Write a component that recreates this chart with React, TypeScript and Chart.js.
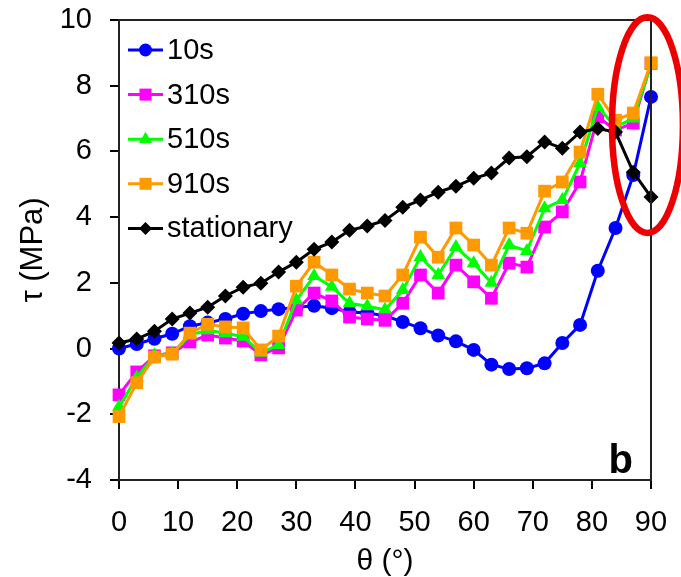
import React, { useEffect, useRef } from "react";
import { Chart, registerables } from "chart.js";

Chart.register(...registerables);

// ---- data ----
const thetaDeg = [0, 3, 6, 9, 12, 15, 18, 21, 24, 27, 30, 33, 36, 39, 42, 45, 48, 51, 54, 57, 60, 63, 66, 69, 72, 75, 78, 81, 84, 87, 90];

const tau10s = [0.0, 0.14, 0.3, 0.45, 0.68, 0.79, 0.9, 1.06, 1.14, 1.2, 1.25, 1.3, 1.23, 1.11, 1.08, 1.0, 0.81, 0.62, 0.4, 0.22, -0.04, -0.49, -0.62, -0.6, -0.45, 0.17, 0.72, 2.37, 3.67, 5.28, 7.66];
const tau310s = [-1.41, -0.71, -0.22, -0.13, 0.2, 0.41, 0.32, 0.23, -0.19, 0.02, 1.17, 1.69, 1.45, 0.96, 0.9, 0.86, 1.38, 2.24, 1.69, 2.54, 2.03, 1.53, 2.6, 2.48, 3.7, 4.16, 5.07, 7.05, 6.65, 6.86, 8.68];
const tau510s = [-1.77, -0.88, -0.2, -0.15, 0.41, 0.56, 0.47, 0.36, -0.13, 0.11, 1.47, 2.21, 1.88, 1.38, 1.29, 1.18, 1.78, 2.79, 2.24, 3.09, 2.6, 2.0, 3.15, 2.97, 4.27, 4.52, 5.64, 7.35, 6.75, 7.0, 8.63];
const tau910s = [-2.07, -1.04, -0.26, -0.17, 0.47, 0.74, 0.66, 0.63, -0.04, 0.38, 1.9, 2.63, 2.24, 1.81, 1.69, 1.6, 2.24, 3.39, 2.78, 3.67, 3.15, 2.54, 3.67, 3.51, 4.79, 5.07, 5.98, 7.74, 6.95, 7.17, 8.7];
const tauStationary = [0.17, 0.29, 0.53, 0.9, 1.08, 1.26, 1.6, 1.87, 1.99, 2.33, 2.63, 3.02, 3.24, 3.6, 3.73, 3.9, 4.3, 4.52, 4.76, 4.94, 5.18, 5.34, 5.8, 5.84, 6.29, 6.1, 6.59, 6.7, 6.59, 5.37, 4.61];

const seriesLabels = ["10s", "310s", "510s", "910s", "stationary"];
const xTickValues = [0, 10, 20, 30, 40, 50, 60, 70, 80, 90];
const yTickValues = [-4, -2, 0, 2, 4, 6, 8, 10];

const xTitle = "θ (°)";
const yTitle = "τ (MPa)";
const panelLetter = "b";

// highlight ellipse (in data units)
const ellipseCenterTheta = 89.4;
const ellipseCenterTau = 6.8;
const ellipseHalfWidthDeg = 6.0;
const ellipseHalfHeightTau = 3.28;

const FONT = '"Liberation Sans", Arial, Helvetica, sans-serif';

const styles = [
  { color: "#0000ff", pointStyle: "circle", radius: 7, legendRadius: 6.5 },
  { color: "#ff00ff", pointStyle: "rect", radius: 9, legendRadius: 8.5 },
  { color: "#00ff00", pointStyle: "triangle", radius: 8, legendRadius: 7.5 },
  { color: "#ff9900", pointStyle: "rect", radius: 9, legendRadius: 8.5 },
  { color: "#000000", pointStyle: "rectRot", radius: 7.5, legendRadius: 6.5 },
];

function drawMarker(ctx: CanvasRenderingContext2D, style: string, x: number, y: number, r: number, color: string) {
  ctx.fillStyle = color;
  ctx.beginPath();
  if (style === "circle") {
    ctx.arc(x, y, r, 0, Math.PI * 2);
  } else if (style === "rect") {
    const s = Math.SQRT1_2 * r;
    ctx.rect(x - s, y - s, 2 * s, 2 * s);
  } else if (style === "triangle") {
    const h = r * 1.5;
    const side = (3 * r) / Math.sqrt(3);
    ctx.moveTo(x - side / 2, y + h / 3);
    ctx.lineTo(x + side / 2, y + h / 3);
    ctx.lineTo(x, y - (2 * h) / 3);
    ctx.closePath();
  } else if (style === "rectRot") {
    ctx.moveTo(x, y - r);
    ctx.lineTo(x + r, y);
    ctx.lineTo(x, y + r);
    ctx.lineTo(x - r, y);
    ctx.closePath();
  }
  ctx.fill();
}

const overlayPlugin = {
  id: "overlay",
  afterDatasetsDraw(chart: any) {
    const ctx: CanvasRenderingContext2D = chart.ctx;
    const { left, right, top, bottom } = chart.chartArea;
    ctx.save();
    // top + right frame
    ctx.strokeStyle = "#222";
    ctx.lineWidth = 2;
    ctx.beginPath();
    ctx.moveTo(left, top);
    ctx.lineTo(right, top);
    ctx.lineTo(right, bottom);
    ctx.stroke();

    // legend
    const lx = left + 9;
    const ly = top + 30;
    const rowH = 44.6;
    ctx.font = `29px ${FONT}`;
    ctx.textBaseline = "middle";
    ctx.textAlign = "left";
    chart.data.datasets.forEach((ds: any, i: number) => {
      const y = ly + i * rowH;
      const st = styles[i];
      ctx.strokeStyle = ds.borderColor;
      ctx.lineWidth = 3;
      ctx.beginPath();
      ctx.moveTo(lx, y);
      ctx.lineTo(lx + 35, y);
      ctx.stroke();
      drawMarker(ctx, st.pointStyle, lx + 17.5, y, st.legendRadius, ds.borderColor);
      ctx.fillStyle = "#000";
      ctx.fillText(ds.label, lx + 39, y + 1);
    });

    // panel letter
    ctx.font = `bold 40px ${FONT}`;
    ctx.textAlign = "right";
    ctx.textBaseline = "alphabetic";
    ctx.fillStyle = "#000";
    ctx.fillText(panelLetter, right - 18, bottom - 7);

    // red ellipse
    const xs = chart.scales.x;
    const ys = chart.scales.y;
    const cx = xs.getPixelForValue(ellipseCenterTheta);
    const cy = ys.getPixelForValue(ellipseCenterTau);
    const rx = Math.abs(xs.getPixelForValue(ellipseCenterTheta + ellipseHalfWidthDeg) - cx);
    const ry = Math.abs(ys.getPixelForValue(ellipseCenterTau + ellipseHalfHeightTau) - cy);
    ctx.strokeStyle = "#ee0000";
    ctx.lineWidth = 6.5;
    ctx.beginPath();
    ctx.ellipse(cx, cy, rx, ry, 0, 0, Math.PI * 2);
    ctx.stroke();
    ctx.restore();
  },
};

export default function App() {
  const ref = useRef<HTMLCanvasElement | null>(null);
  useEffect(() => {
    if (!ref.current) return;
    const seriesValues = [tau10s, tau310s, tau510s, tau910s, tauStationary];
    const orders = [5, 4, 3, 2, 1];
    const chart = new Chart(ref.current, {
      type: "line",
      data: {
        datasets: seriesValues.map((vals, i) => ({
          label: seriesLabels[i],
          data: thetaDeg.map((t, j) => ({ x: t, y: vals[j] })),
          borderColor: styles[i].color,
          backgroundColor: styles[i].color,
          pointBackgroundColor: styles[i].color,
          pointBorderColor: styles[i].color,
          pointBorderWidth: 0,
          pointStyle: styles[i].pointStyle as any,
          pointRadius: styles[i].radius,
          borderWidth: 3,
          tension: 0,
          order: orders[i],
          clip: false as any,
        })),
      },
      options: {
        responsive: false,
        animation: false,
        events: [],
        layout: { padding: { left: 0, top: 20, right: 30, bottom: 0 } },
        plugins: {
          legend: { display: false },
          tooltip: { enabled: false },
        },
        scales: {
          x: {
            type: "linear",
            min: 0,
            max: 90,
            afterFit: (s: any) => { s.height = 97; s.paddingLeft = 0; s.paddingRight = 0; },
            afterBuildTicks: (s: any) => { s.ticks = xTickValues.map((v) => ({ value: v })); },
            ticks: { color: "#000", font: { family: FONT, size: 29 }, padding: 17, maxRotation: 0, autoSkip: false },
            grid: { drawOnChartArea: false, drawTicks: true, tickLength: 9, color: "#000", lineWidth: 2 },
            border: { display: true, color: "#222", width: 2 },
            title: { display: true, text: xTitle, color: "#000", font: { family: FONT, size: 30, lineHeight: 1 }, padding: { top: 1, bottom: 0 } },
          },
          y: {
            type: "linear",
            min: -4,
            max: 10,
            afterFit: (s: any) => { s.width = 119; s.paddingTop = 0; s.paddingBottom = 0; },
            afterBuildTicks: (s: any) => { s.ticks = yTickValues.map((v) => ({ value: v })); },
            ticks: { color: "#000", font: { family: FONT, size: 29 }, padding: 18 },
            grid: { drawOnChartArea: false, drawTicks: true, tickLength: 9, color: "#000", lineWidth: 2 },
            border: { display: true, color: "#222", width: 2 },
            title: { display: true, text: yTitle, color: "#000", font: { family: FONT, size: 31 }, padding: { top: 15, bottom: 0 } },
          },
        },
      },
      plugins: [overlayPlugin],
    });
    return () => chart.destroy();
  }, []);
  return (
    <div style={{ position: "absolute", left: 0, top: 0, width: 681, height: 577, background: "#fff" }}>
      <canvas ref={ref} width={681} height={577} style={{ display: "block" }} />
    </div>
  );
}
